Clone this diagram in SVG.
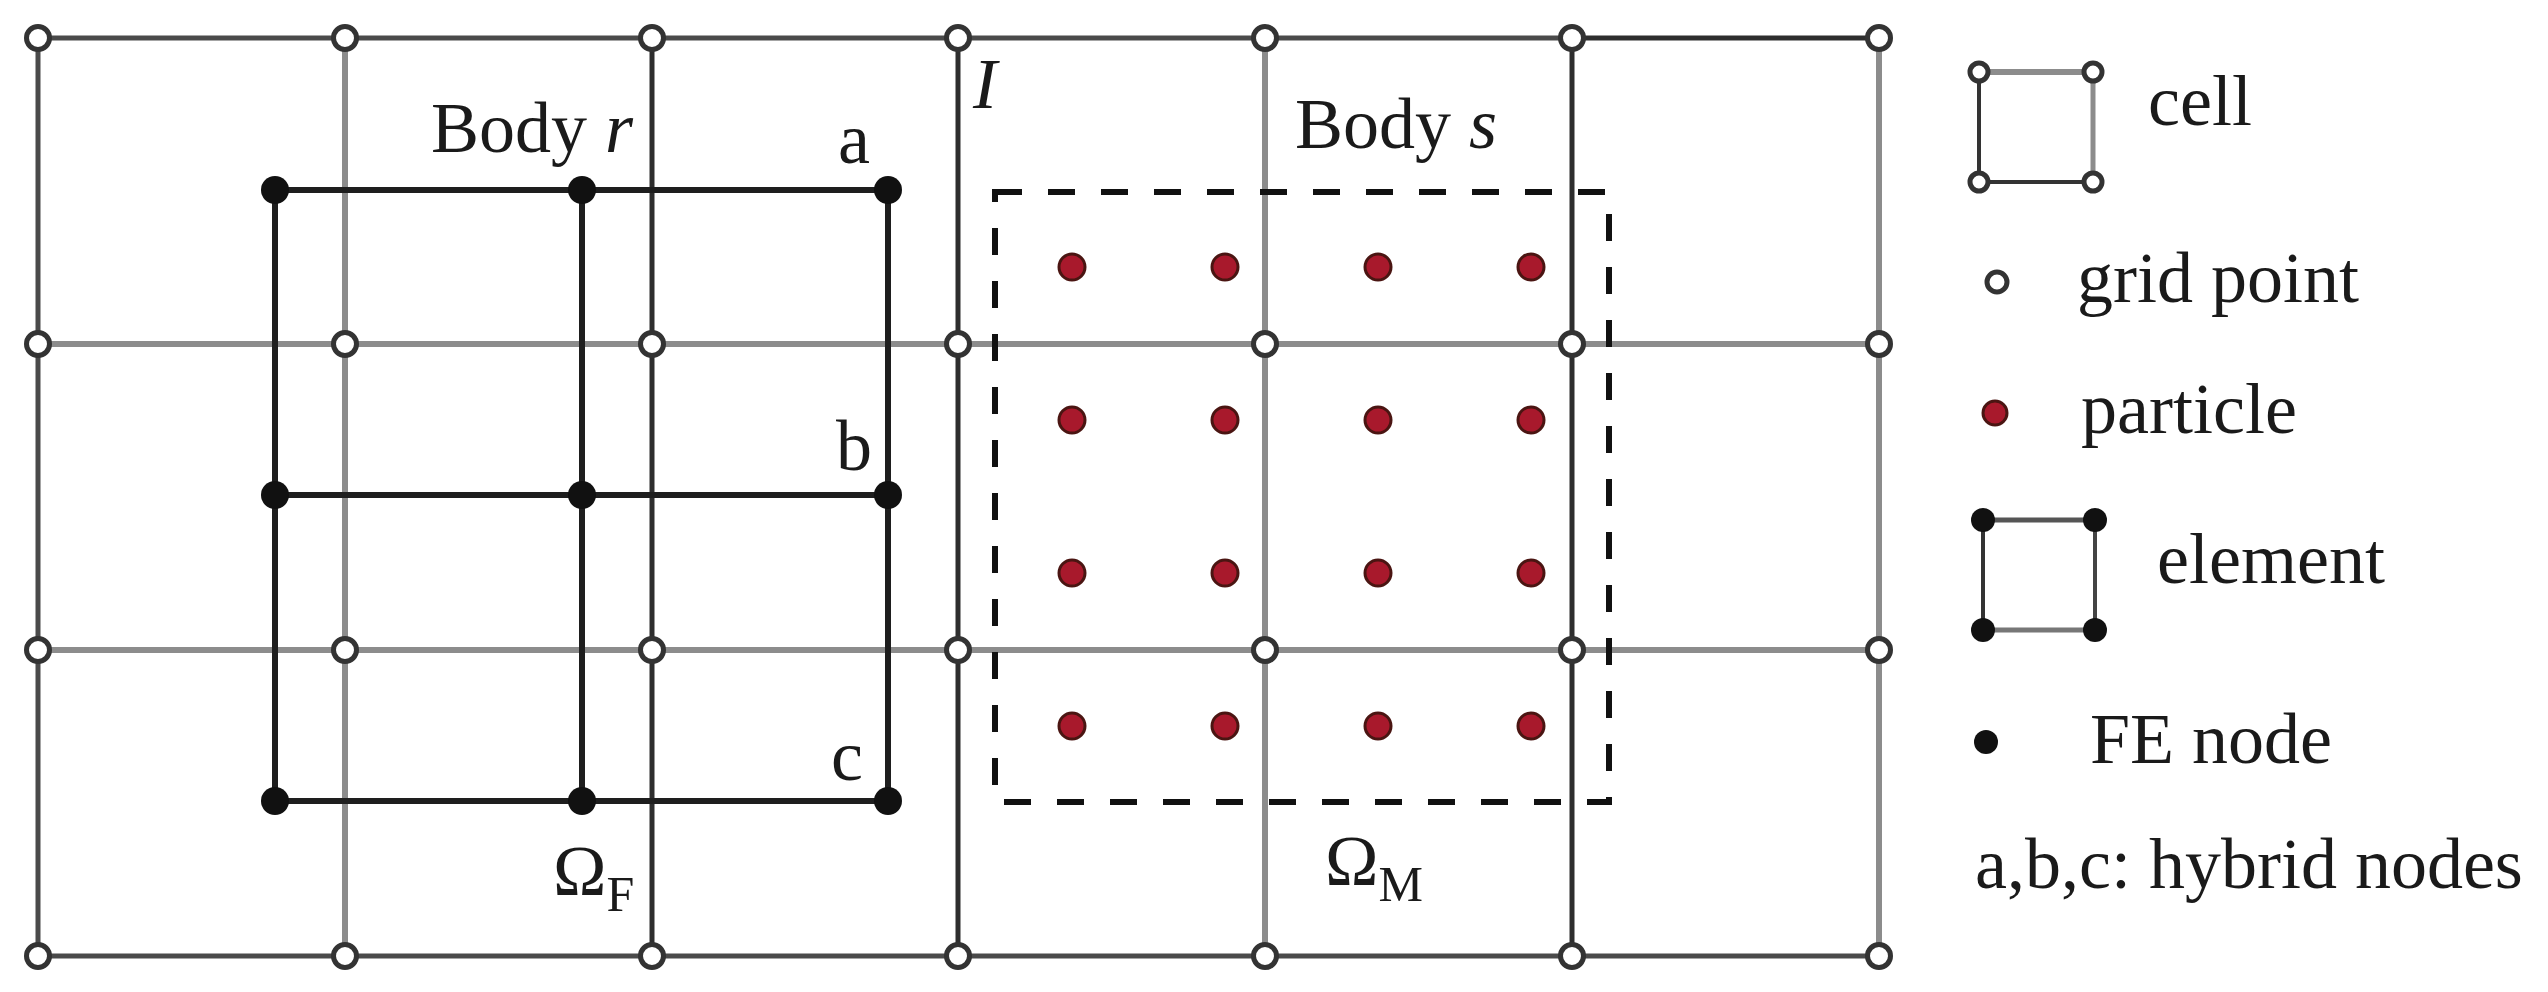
<svg xmlns="http://www.w3.org/2000/svg" width="2548" height="992" viewBox="0 0 2548 992">
<style>
  .t { font-family: "Liberation Serif", "Times New Roman", serif; font-size: 72px; fill: #1a1a1a; }
  .it { font-style: italic; }
  .gd { stroke: #4a4a4a; stroke-width: 5; fill: none; }
  .gk { stroke: #2e2e2e; stroke-width: 5; fill: none; }
  .gl { stroke: #8c8c8c; stroke-width: 6; fill: none; }
  .el { stroke: #1e1e1e; stroke-width: 6; fill: none; }
  .dash { stroke: #111; stroke-width: 6; fill: none; stroke-dasharray: 27 26; }
  .gp { fill: #fff; stroke: #333; stroke-width: 5; }
  .fe { fill: #111; }
  .pa { fill: #a8192c; stroke: #4a1512; stroke-width: 3; }
</style>
<rect width="2548" height="992" fill="#fff"/>
<g id="connectors">
  <!-- background grid rows -->
  <line class="gd" x1="38" y1="38" x2="1572" y2="38"/>
  <line class="gk" x1="1572" y1="38" x2="1879" y2="38"/>
  <line class="gl" x1="38" y1="344" x2="1879" y2="344"/>
  <line class="gl" x1="38" y1="650" x2="1879" y2="650"/>
  <line class="gd" x1="38" y1="956" x2="1879" y2="956"/>
  <!-- background grid columns -->
  <line class="gd" x1="38" y1="38" x2="38" y2="956"/>
  <line class="gl" x1="345" y1="38" x2="345" y2="956"/>
  <line class="gk" x1="652" y1="38" x2="652" y2="956"/>
  <line class="gk" x1="958" y1="38" x2="958" y2="956"/>
  <line class="gl" x1="1265" y1="38" x2="1265" y2="956"/>
  <line class="gk" x1="1572" y1="38" x2="1572" y2="956"/>
  <line class="gl" x1="1879" y1="38" x2="1879" y2="956"/>
  <!-- finite element mesh (body r) -->
  <line class="el" x1="275" y1="190" x2="888" y2="190"/>
  <line class="el" x1="275" y1="495" x2="888" y2="495"/>
  <line class="el" x1="275" y1="801" x2="888" y2="801"/>
  <line class="el" x1="275" y1="190" x2="275" y2="801"/>
  <line class="el" x1="582" y1="190" x2="582" y2="801"/>
  <line class="el" x1="888" y1="190" x2="888" y2="801"/>
  <!-- material point domain boundary (body s) -->
  <rect id="omegaM-box" class="dash" x="995" y="192" width="614" height="610"/>
</g>
<g id="grid-points">
  <circle class="gp" cx="38" cy="38" r="11.5"/><circle class="gp" cx="345" cy="38" r="11.5"/><circle class="gp" cx="652" cy="38" r="11.5"/><circle class="gp" cx="958" cy="38" r="11.5"/><circle class="gp" cx="1265" cy="38" r="11.5"/><circle class="gp" cx="1572" cy="38" r="11.5"/><circle class="gp" cx="1879" cy="38" r="11.5"/>
  <circle class="gp" cx="38" cy="344" r="11.5"/><circle class="gp" cx="345" cy="344" r="11.5"/><circle class="gp" cx="652" cy="344" r="11.5"/><circle class="gp" cx="958" cy="344" r="11.5"/><circle class="gp" cx="1265" cy="344" r="11.5"/><circle class="gp" cx="1572" cy="344" r="11.5"/><circle class="gp" cx="1879" cy="344" r="11.5"/>
  <circle class="gp" cx="38" cy="650" r="11.5"/><circle class="gp" cx="345" cy="650" r="11.5"/><circle class="gp" cx="652" cy="650" r="11.5"/><circle class="gp" cx="958" cy="650" r="11.5"/><circle class="gp" cx="1265" cy="650" r="11.5"/><circle class="gp" cx="1572" cy="650" r="11.5"/><circle class="gp" cx="1879" cy="650" r="11.5"/>
  <circle class="gp" cx="38" cy="956" r="11.5"/><circle class="gp" cx="345" cy="956" r="11.5"/><circle class="gp" cx="652" cy="956" r="11.5"/><circle class="gp" cx="958" cy="956" r="11.5"/><circle class="gp" cx="1265" cy="956" r="11.5"/><circle class="gp" cx="1572" cy="956" r="11.5"/><circle class="gp" cx="1879" cy="956" r="11.5"/>
</g>
<g id="fe-nodes">
  <circle class="fe" cx="275" cy="190" r="14"/><circle class="fe" cx="582" cy="190" r="14"/><circle class="fe" cx="888" cy="190" r="14"/>
  <circle class="fe" cx="275" cy="495" r="14"/><circle class="fe" cx="582" cy="495" r="14"/><circle class="fe" cx="888" cy="495" r="14"/>
  <circle class="fe" cx="275" cy="801" r="14"/><circle class="fe" cx="582" cy="801" r="14"/><circle class="fe" cx="888" cy="801" r="14"/>
</g>
<g id="particles">
  <circle class="pa" cx="1072" cy="267" r="13"/><circle class="pa" cx="1225" cy="267" r="13"/><circle class="pa" cx="1378" cy="267" r="13"/><circle class="pa" cx="1531" cy="267" r="13"/>
  <circle class="pa" cx="1072" cy="420" r="13"/><circle class="pa" cx="1225" cy="420" r="13"/><circle class="pa" cx="1378" cy="420" r="13"/><circle class="pa" cx="1531" cy="420" r="13"/>
  <circle class="pa" cx="1072" cy="573" r="13"/><circle class="pa" cx="1225" cy="573" r="13"/><circle class="pa" cx="1378" cy="573" r="13"/><circle class="pa" cx="1531" cy="573" r="13"/>
  <circle class="pa" cx="1072" cy="726" r="13"/><circle class="pa" cx="1225" cy="726" r="13"/><circle class="pa" cx="1378" cy="726" r="13"/><circle class="pa" cx="1531" cy="726" r="13"/>
</g>
<g id="labels">
  <text class="t" x="431" y="152">Body <tspan class="it">r</tspan></text>
  <text class="t" x="1295" y="148">Body <tspan class="it">s</tspan></text>
  <text class="t it" x="973" y="108">I</text>
  <text class="t" x="838" y="163">a</text>
  <text class="t" x="836" y="470">b</text>
  <text class="t" x="831" y="780">c</text>
  <text class="t" x="553" y="895">Ω<tspan font-size="50" dy="16">F</tspan></text>
  <text class="t" x="1325" y="885">Ω<tspan font-size="50" dy="16">M</tspan></text>
</g>
<g id="legend-cell">
  <line stroke="#8c8c8c" stroke-width="6" x1="1979" y1="72" x2="2093" y2="72"/>
  <line stroke="#333" stroke-width="4" x1="1979" y1="72" x2="1979" y2="182"/>
  <line stroke="#8c8c8c" stroke-width="5" x1="2093" y1="72" x2="2093" y2="182"/>
  <line stroke="#333" stroke-width="4" x1="1979" y1="182" x2="2093" y2="182"/>
  <circle class="gp" cx="1979" cy="72" r="9" stroke-width="4"/><circle class="gp" cx="2093" cy="72" r="9" stroke-width="4"/>
  <circle class="gp" cx="1979" cy="182" r="9" stroke-width="4"/><circle class="gp" cx="2093" cy="182" r="9" stroke-width="4"/>
  <text class="t" x="2148" y="125">cell</text>
</g>
<g id="legend-grid-point">
  <circle class="gp" cx="1997" cy="282" r="10" stroke-width="4"/>
  <text class="t" x="2077" y="302">grid point</text>
</g>
<g id="legend-particle">
  <circle class="pa" cx="1995" cy="413" r="12"/>
  <text class="t" x="2081" y="433">particle</text>
</g>
<g id="legend-element">
  <line stroke="#555" stroke-width="5" x1="1983" y1="520" x2="2095" y2="520"/>
  <line stroke="#333" stroke-width="4" x1="1983" y1="520" x2="1983" y2="630"/>
  <line stroke="#444" stroke-width="4" x1="2095" y1="520" x2="2095" y2="630"/>
  <line stroke="#777" stroke-width="5" x1="1983" y1="630" x2="2095" y2="630"/>
  <circle class="fe" cx="1983" cy="520" r="12"/><circle class="fe" cx="2095" cy="520" r="12"/>
  <circle class="fe" cx="1983" cy="630" r="12"/><circle class="fe" cx="2095" cy="630" r="12"/>
  <text class="t" x="2157" y="583">element</text>
</g>
<g id="legend-fe-node">
  <circle class="fe" cx="1986" cy="742" r="12"/>
  <text class="t" x="2090" y="763">FE node</text>
</g>
<g id="legend-hybrid">
  <text class="t" x="1975" y="888">a,b,c: hybrid nodes</text>
</g>
</svg>
